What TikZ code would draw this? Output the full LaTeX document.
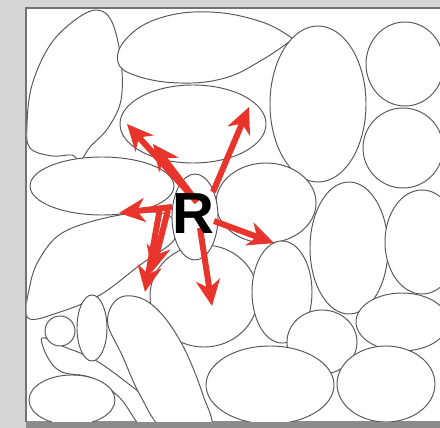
\documentclass[tikz,border=0pt]{standalone}
\usepackage{fontspec}
\setmainfont{Liberation Sans}
\usetikzlibrary{arrows.meta}
\definecolor{arrowred}{RGB}{232,52,42}
\definecolor{stoneline}{RGB}{85,85,85}
\definecolor{pagegray}{RGB}{214,214,214}
\begin{document}
\begin{tikzpicture}[x=1pt,y=-1pt,
  stone/.style={draw=stoneline, line width=0.95pt, fill=white},
  redarrow/.style={draw=arrowred, line width=6pt, -{Stealth[length=26pt,width=24pt,inset=8pt]}}]
\useasboundingbox (0,0) rectangle (440,428);
% page and frame
\fill[pagegray] (0,0) rectangle (440,428);
\fill[white] (26,8) rectangle (440,422);
\fill[black!45] (26,421) rectangle (440,428);
\draw[black!55, line width=1.2pt] (26,422) -- (26,8) -- (440,8);
\begin{scope}
\clip (26.6,8.6) rectangle (440,421);
% top row
\draw[stone] plot[smooth cycle, tension=0.6] coordinates {(97,10) (112,22) (121,60) (121,100) (108,128) (90,147) (80,161) (72,155) (52,156) (30,148) (27,125) (32,85) (50,45) (75,20)};
\draw[stone] plot[smooth, tension=0.7] coordinates {(293,39) (262,22) (210,12) (160,18) (127,38) (118,62) (137,76) (180,83) (225,78) (262,60) (293,39)};
\draw[stone] (318,104) ellipse [x radius=48, y radius=78];
\draw[stone] (405,64) ellipse [x radius=39, y radius=42];
\draw[stone] (403,148) ellipse [x radius=40, y radius=40];
% middle
\draw[stone] (193,124) ellipse [x radius=73, y radius=39];
\draw[stone] (102,186) ellipse [x radius=72, y radius=29];
\draw[stone] plot[smooth cycle, tension=0.6] coordinates {(28,318) (30,285) (40,258) (62,233) (105,218) (150,212) (172,218) (174,240) (140,265) (100,295) (60,312)};
\draw[stone] (266,203) ellipse [x radius=50, y radius=40];
\draw[stone] (349,248) ellipse [x radius=39, y radius=66];
\draw[stone] (422,242) ellipse [x radius=37, y radius=52];
\draw[stone] (204,296) ellipse [x radius=54, y radius=51];
\draw[stone] (282,292) ellipse [x radius=30, y radius=51];
\draw[stone] (195,217) ellipse [x radius=23, y radius=43];
% bottom
\draw[stone] (402,322) ellipse [x radius=46, y radius=29];
\draw[stone] (322,342) ellipse [x radius=35, y radius=32];
\draw[stone] (386,384) ellipse [x radius=49, y radius=38];
\draw[stone] (270,385) ellipse [x radius=64, y radius=39];
\draw[stone] plot[smooth cycle, tension=0.6] coordinates {(42,338) (62,346) (95,360) (130,385) (160,410) (178,430) (145,430) (120,398) (92,378) (62,372) (48,358)};
\draw[stone] plot[smooth cycle, tension=0.6] coordinates {(112,305) (125,296) (145,300) (165,318) (185,350) (203,395) (210,428) (165,430) (140,395) (122,355) (108,325)};
\draw[stone] (60,331) circle [radius=15];
\draw[stone] (92,328) ellipse [x radius=15, y radius=33];
\draw[stone] (72,400) ellipse [x radius=43, y radius=25];
\end{scope}
% arrow end points
\coordinate (o1) at (197,202);
\coordinate (t1) at (127,124);
\coordinate (t1b) at (153,144);
\coordinate (o2) at (213,192);
\coordinate (t2) at (249,107);
\coordinate (o3) at (172,207);
\coordinate (t3) at (119,213);
\coordinate (o4) at (160,208);
\coordinate (t4) at (145,292);
\coordinate (o4b) at (168,210);
\coordinate (t4b) at (152,272);
\coordinate (o5) at (200,228);
\coordinate (t5) at (212,306);
\coordinate (o6) at (214,221);
\coordinate (t6) at (274,243);
\draw[redarrow] (o1) -- (t1);
\draw[redarrow] (o1) -- (t1b);
\draw[redarrow] (o2) -- (t2);
\draw[redarrow] (o3) -- (t3);
\draw[redarrow] (o4) -- (t4);
\draw[redarrow] (o4b) -- (t4b);
\draw[redarrow] (o5) -- (t5);
\draw[redarrow] (o6) -- (t6);
\node[inner sep=0pt, text=black] (R) at (193,214) {\fontsize{58}{58}\selectfont\bfseries R};
\end{tikzpicture}
\end{document}
